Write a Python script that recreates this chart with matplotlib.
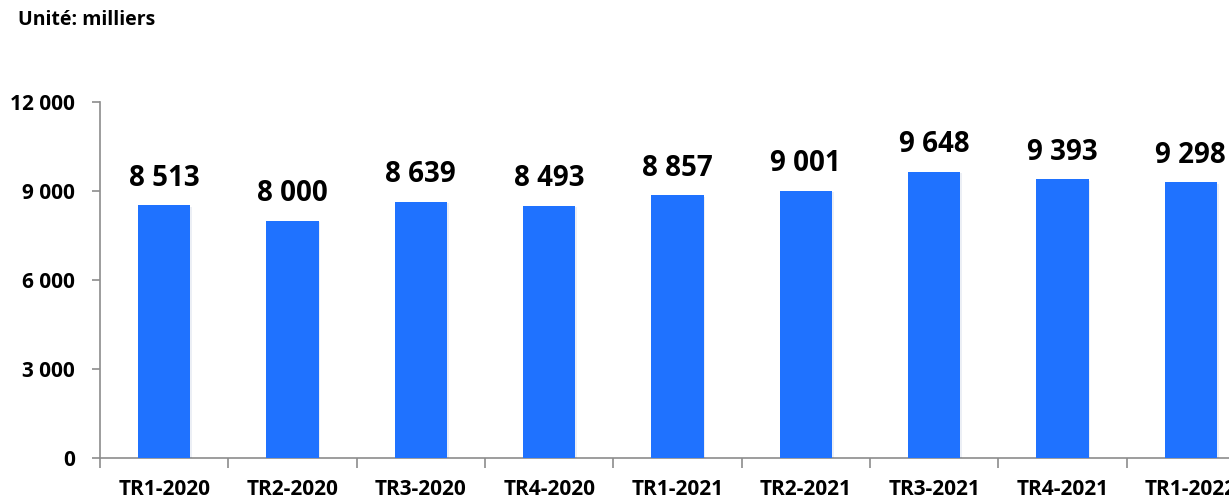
import matplotlib.pyplot as plt
from matplotlib.ticker import FixedLocator, FuncFormatter
import matplotlib.patheffects as pe

quarters = ['TR1-2020', 'TR2-2020', 'TR3-2020', 'TR4-2020', 'TR1-2021',
            'TR2-2021', 'TR3-2021', 'TR4-2021', 'TR1-2022']
values = [8513, 8000, 8639, 8493, 8857, 9001, 9648, 9393, 9298]
yticks = [0, 3000, 6000, 9000, 12000]

plt.rcParams['font.family'] = ['Open Sans', 'DejaVu Sans']

fig = plt.figure(figsize=(12.29, 5.01), dpi=100)
# axes run past the right edge, as in the original (last label is cut)
ax = fig.add_axes([100 / 1229, 43 / 501, 1155 / 1229, 356 / 501])

x = list(range(len(quarters)))
bars = ax.bar(x, values, width=0.41, color='#1f72ff', zorder=3)
for b in bars:
    b.set_path_effects([pe.SimplePatchShadow(offset=(1, -1), alpha=0.08, rho=0.5), pe.Normal()])

for xi, v in zip(x, values):
    ax.text(xi, v + 660, f'{v:,}'.replace(',', ' '), ha='center', va='baseline',
            fontsize=20, fontweight='bold', color='black')

ax.set_xlim(-0.5, len(quarters) - 0.5)
ax.set_ylim(0, 12000)
ax.set_yticks(yticks)
ax.yaxis.set_major_formatter(FuncFormatter(lambda v, p: f'{int(v):,}'.replace(',', ' ')))
ax.tick_params(axis='y', length=6, width=1.2, color='#8c8c8c', pad=12,
               labelsize=15)
for lab in ax.get_yticklabels():
    lab.set_fontweight('bold')

ax.set_xticks(x)
ax.set_xticklabels(quarters, fontsize=15, fontweight='bold')
ax.xaxis.set_minor_locator(FixedLocator([i - 0.5 for i in range(len(quarters) + 1)]))
ax.tick_params(axis='x', which='major', length=0, pad=15)
ax.tick_params(axis='x', which='minor', length=7, width=1.2, color='#8c8c8c')

for s in ['top', 'right']:
    ax.spines[s].set_visible(False)
for s in ['left', 'bottom']:
    ax.spines[s].set_color('#8c8c8c')
    ax.spines[s].set_linewidth(1.2)

fig.text(18 / 1229, 1 - 20 / 501, 'Unité: milliers', fontsize=14, fontweight='bold',
         va='center', ha='left')

fig.savefig('out.png', dpi=100)
